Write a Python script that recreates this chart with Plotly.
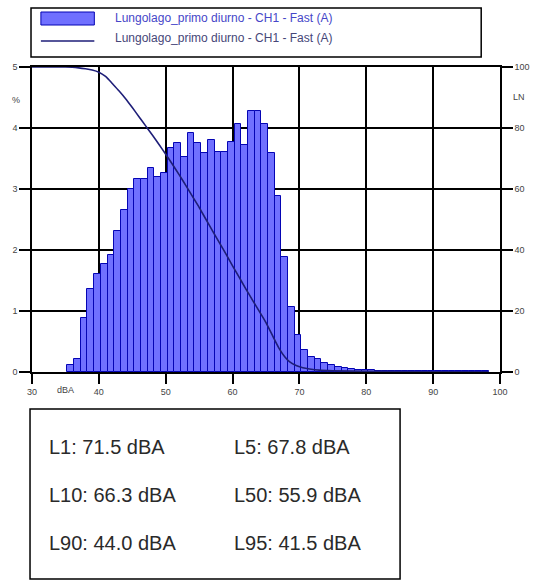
import plotly.graph_objects as go

# Level distribution: percentage of time per 1 dB class (first class starts at 35.3 dBA)
first_class = 35.3
pct = [0.11, 0.21, 0.88, 1.36, 1.61, 1.77, 1.92, 2.31, 2.66, 3.00,
       3.17, 3.17, 3.35, 3.20, 3.27, 3.68, 3.75, 3.53, 3.91, 3.76,
       3.59, 3.81, 3.61, 3.61, 3.77, 4.06, 3.72, 4.28, 4.28, 4.06,
       3.59, 2.89, 1.89, 1.06, 0.61, 0.36, 0.24, 0.21, 0.14, 0.11,
       0.08, 0.07, 0.05, 0.04, 0.03, 0.03, 0.02, 0.02, 0.02, 0.02,
       0.02, 0.02, 0.02, 0.02, 0.01, 0.01, 0.01, 0.01, 0.01, 0.01,
       0.01, 0.01, 0.01]
class_centres = [first_class + 0.5 + i for i in range(len(pct))]

# Cumulative exceedance curve LN (% of time level is exceeded)
ln_level = [30, 35, 36, 37, 38, 39, 40, 41, 41.5, 42, 43, 44, 45, 46, 47, 48,
            49, 50, 51, 52, 53, 54, 55, 55.9, 57, 58, 59, 60, 61, 62, 63, 64,
            65, 66.3, 67, 67.8, 68.5, 69.5, 70.5, 71.5, 73, 75, 80, 90, 98.3]
ln_value = [100, 100, 99.9, 99.7, 99.4, 99.0, 98.3, 96.9, 95.8, 94.6, 92.2,
            89.6, 86.7, 83.7, 80.7, 77.7, 74.6, 71.4, 68.1, 64.7, 61.2, 57.6,
            54.0, 50.5, 46.3, 42.5, 38.7, 34.8, 31.0, 27.2, 23.5, 19.9, 16.2,
            10.5, 7.6, 5.0, 3.4, 2.1, 1.4, 1.0, 0.6, 0.4, 0.2, 0.05, 0]

series_name = "Lungolago_primo diurno - CH1 - Fast (A)"
stats = [("L1", 71.5), ("L5", 67.8), ("L10", 66.3),
         ("L50", 55.9), ("L90", 44.0), ("L95", 41.5)]

W, H = 542, 584
L, R, T, B = 31, 38, 67, 212
PW, PH = W - L - R, H - T - B


def px(x):
    return (x - L) / PW


def py(y):
    return (H - B - y) / PH


FONT = "Liberation Sans, Arial, sans-serif"
BAR_FILL = "rgb(112,112,255)"
BAR_EDGE = "rgb(5,5,180)"
CURVE = "rgb(30,30,120)"
GRID = "black"

fig = go.Figure()
fig.add_trace(go.Bar(
    x=class_centres, y=pct, width=1.0,
    marker=dict(color=BAR_FILL, line=dict(color=BAR_EDGE, width=1)),
    name=series_name, showlegend=False,
))
fig.add_trace(go.Scatter(
    x=ln_level, y=ln_value, yaxis="y2", mode="lines",
    line=dict(color=CURVE, width=1.6, shape="spline", smoothing=0.6),
    name=series_name, showlegend=False,
))

shapes = []
annotations = []

# legend frame and samples
shapes.append(dict(type="rect", xref="paper", yref="paper",
                   x0=px(30), x1=px(485), y0=py(57), y1=py(8),
                   line=dict(color="black", width=1.5), fillcolor="white"))
shapes.append(dict(type="rect", xref="paper", yref="paper",
                   x0=px(40), x1=px(94), y0=py(25), y1=py(12),
                   line=dict(color=BAR_EDGE, width=1), fillcolor=BAR_FILL))
shapes.append(dict(type="line", xref="paper", yref="paper",
                   x0=px(40), x1=px(94), y0=py(41), y1=py(41),
                   line=dict(color=CURVE, width=1.5)))
annotations.append(dict(xref="paper", yref="paper", x=px(113), y=py(18),
                        xanchor="left", yanchor="middle", showarrow=False,
                        text=series_name,
                        font=dict(family=FONT, size=12, color="rgb(70,70,200)")))
annotations.append(dict(xref="paper", yref="paper", x=px(113), y=py(38),
                        xanchor="left", yanchor="middle", showarrow=False,
                        text=series_name,
                        font=dict(family=FONT, size=12, color="rgb(70,70,120)")))

# axis captions
annotations.append(dict(xref="paper", yref="paper", x=px(15), y=py(100),
                        xanchor="center", yanchor="middle", showarrow=False,
                        text="%", font=dict(family=FONT, size=9, color="#444")))
annotations.append(dict(xref="paper", yref="paper", x=px(523), y=py(97),
                        xanchor="center", yanchor="middle", showarrow=False,
                        text="LN", font=dict(family=FONT, size=9, color="#444")))
annotations.append(dict(xref="paper", yref="paper", x=px(65), y=py(390),
                        xanchor="center", yanchor="middle", showarrow=False,
                        text="dBA", font=dict(family=FONT, size=9, color="#444")))

# percentile summary box
shapes.append(dict(type="rect", xref="paper", yref="paper",
                   x0=px(29), x1=px(403), y0=py(579), y1=py(409),
                   line=dict(color="black", width=1.5), fillcolor="white"))
rows_y = [447, 495, 543]
cols_x = [46, 233]
for i, (lbl, val) in enumerate(stats):
    annotations.append(dict(xref="paper", yref="paper",
                            x=px(cols_x[i % 2]), y=py(rows_y[i // 2]),
                            xanchor="left", yanchor="middle", showarrow=False,
                            text=f"{lbl}: {val:.1f} dBA",
                            font=dict(family=FONT, size=20, color="#2a2a2a")))

fig.update_layout(
    width=W, height=H,
    margin=dict(l=L, r=R, t=T, b=B),
    paper_bgcolor="white", plot_bgcolor="white",
    bargap=0, showlegend=False,
    shapes=shapes, annotations=annotations,
    xaxis=dict(range=[30, 100], tickvals=[30, 40, 50, 60, 70, 80, 90, 100],
               showgrid=True, gridcolor=GRID, gridwidth=1.5,
               showline=True, linecolor="black", linewidth=1.5, mirror=True,
               ticks="outside", ticklen=10, tickcolor="black", tickwidth=1.5,
               tickfont=dict(family=FONT, size=9, color="#444"),
               zeroline=False, fixedrange=True),
    yaxis=dict(range=[0, 5], tickvals=[0, 1, 2, 3, 4, 5],
               showgrid=True, gridcolor=GRID, gridwidth=1.5,
               showline=True, linecolor="black", linewidth=1.5,
               ticks="outside", ticklen=11, tickcolor="black", tickwidth=1.5,
               tickfont=dict(family=FONT, size=9, color="#444"),
               zeroline=False, fixedrange=True),
    yaxis2=dict(range=[0, 100], tickvals=[0, 20, 40, 60, 80, 100],
                overlaying="y", side="right", showgrid=False,
                showline=True, linecolor="black", linewidth=1.5,
                ticks="outside", ticklen=11, tickcolor="black", tickwidth=1.5,
                tickfont=dict(family=FONT, size=9, color="#444"),
                zeroline=False, fixedrange=True),
)

fig.write_html("out.html", config={"displayModeBar": False})
